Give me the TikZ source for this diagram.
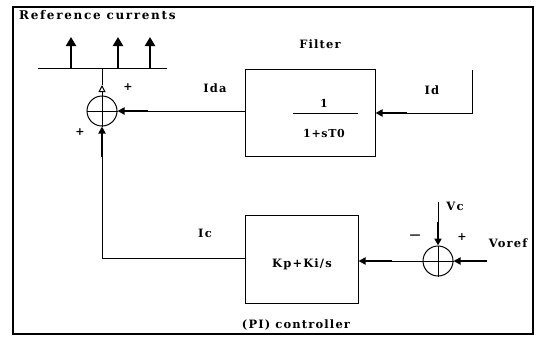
\documentclass[tikz,border=0pt]{standalone}
\usepackage{fontspec}
\setmainfont{DejaVu Serif}
\usetikzlibrary{arrows.meta}
\begin{document}
\begin{tikzpicture}[x=1pt,y=-1pt,
  lbl/.style={font=\bfseries\fontsize{11.5}{12}\selectfont\addfontfeature{LetterSpace=10}, inner sep=0pt},
  tlbl/.style={font=\bfseries\fontsize{12}{13}\selectfont\addfontfeature{LetterSpace=14}, inner sep=0pt},
  flbl/.style={font=\bfseries\fontsize{11}{12}\selectfont\addfontfeature{LetterSpace=6}, inner sep=0pt},
  sgn/.style={font=\bfseries\fontsize{11}{12}\selectfont, inner sep=0pt},
  blk/.style={draw, line width=1pt, inner sep=0pt},
  sumj/.style={draw, circle, line width=1pt, minimum size=30pt, inner sep=0pt},
  wire/.style={line width=1pt},
  thick arrow/.style={line width=2.4pt, -{Triangle[width=7pt,length=7pt]}},
  up arrow/.style={line width=2.8pt, -{Triangle[width=10pt,length=9pt]}}
]
\useasboundingbox (0,0) rectangle (537,341);
\draw[line width=1.3pt] (13,7) rectangle (533,334);
\node[tlbl, anchor=west] (title) at (19,15) {Reference currents};
% bus and reference arrows
\coordinate (busL) at (38,68);
\coordinate (busR) at (167,68);
\draw[wire] (busL) -- (busR);
\coordinate (a1) at (71,68); \coordinate (a1t) at (71,37);
\coordinate (a2) at (118,68); \coordinate (a2t) at (118,37);
\coordinate (a3) at (150,68); \coordinate (a3t) at (150,37);
\draw[up arrow] (a1) -- (a1t);
\draw[up arrow] (a2) -- (a2t);
\draw[up arrow] (a3) -- (a3t);
% summing junction 1
\node[sumj] (s1) at (102,111) {};
\draw[wire] (s1.north) -- (s1.south);
\draw[wire] (s1.west) -- (s1.east);
\coordinate (s1top) at (102,85);
\coordinate (s1bus) at (102,68);
\draw[wire, -{Triangle[open,width=7pt,length=7pt]}] (s1.north) -- (s1top);
\draw[wire] (s1top) -- (s1bus);
\node[sgn] (p1) at (128,87) {+};
\node[sgn] (p2) at (80,132) {+};
% filter
\node[blk, minimum width=130pt, minimum height=87pt] (filt) at (310,112.5) {};
\node[lbl] (filtlbl) at (320,44) {Filter};
\node[flbl] (num) at (324,103) {1};
\node[flbl] (den) at (324,133) {1+sT0};
\coordinate (fl) at (293,113);
\coordinate (fr) at (358,113);
\draw[wire] (fl) -- (fr);
\node[lbl] (ida) at (215,88) {Ida};
\coordinate (s1in) at (148,111);
\draw[wire] (filt.west |- s1in) -- (s1in);
\draw[thick arrow] (s1in) -- (s1.east);
% Id input
\coordinate (idtop) at (472,70);
\coordinate (idcorner) at (472,113);
\coordinate (idarr) at (407,113);
\draw[wire] (idtop) -- (idcorner) -- (idarr);
\draw[thick arrow] (idarr) -- (filt.east |- idarr);
\node[lbl] (id) at (432,90) {Id};
% PI controller
\node[blk, minimum width=113pt, minimum height=88pt] (pi) at (301.5,259) {};
\node[lbl] (pitxt) at (302,264) {Kp+Ki/s};
\node[lbl] (pilbl) at (296,325) {(PI) controller};
\coordinate (corner) at (102,258);
\coordinate (s1arr) at (102,157);
\draw[wire] (pi.west |- corner) -- (corner) -- (s1arr);
\draw[thick arrow] (s1arr) -- (s1.south);
\node[lbl] (ic) at (205,233) {Ic};
% summing junction 2
\node[sumj] (s2) at (438,261) {};
\draw[wire] (s2.north) -- (s2.south);
\draw[wire] (s2.west) -- (s2.east);
\coordinate (pin) at (392,261);
\draw[wire] (s2.west) -- (pin);
\draw[thick arrow] (pin) -- (pi.east |- pin);
\coordinate (vref) at (487,261);
\draw[thick arrow] (vref) -- (s2.east);
\coordinate (vctop) at (438,202);
\coordinate (vcarr) at (438,222);
\draw[wire] (vctop) -- (vcarr);
\draw[thick arrow] (vcarr) -- (s2.north);
\node[lbl] (vc) at (455,206) {Vc};
\node[sgn] (m2) at (415,237) {---};
\node[sgn] (p3) at (462,237) {+};
\node[lbl] (voref) at (508,243) {Voref};
\end{tikzpicture}
\end{document}
